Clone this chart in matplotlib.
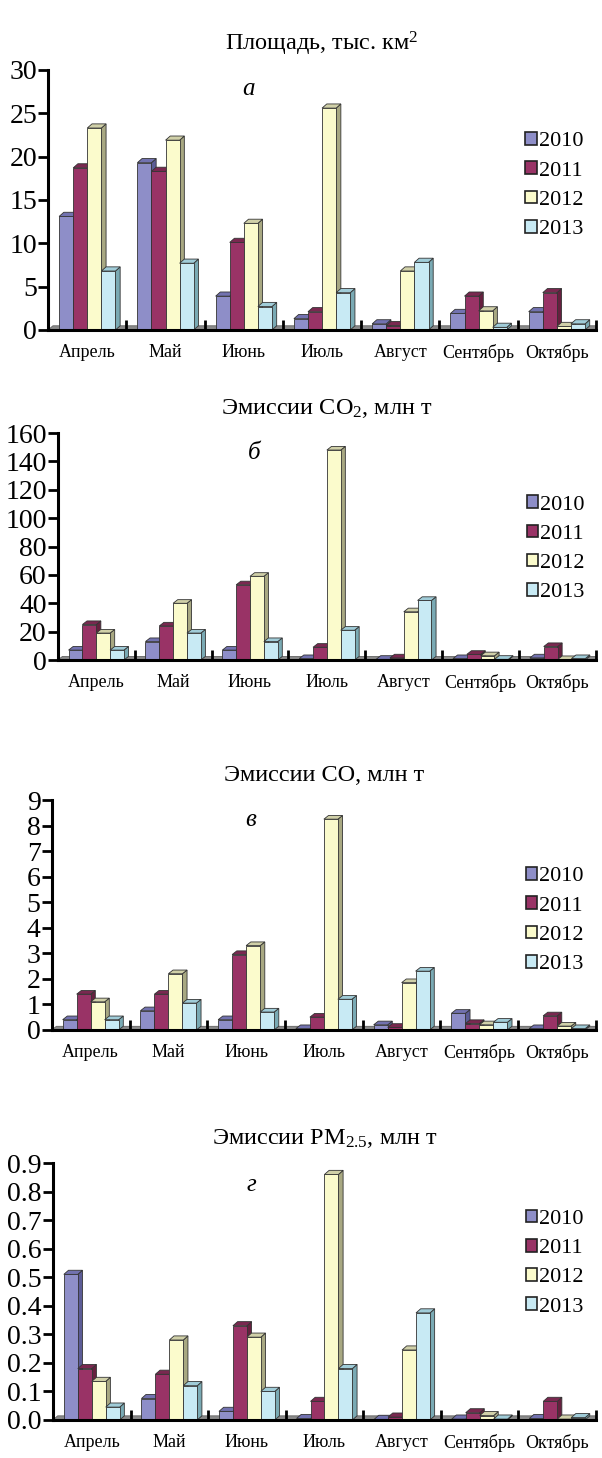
import matplotlib
matplotlib.use('Agg')
import matplotlib.pyplot as plt
from matplotlib.patches import Polygon, Rectangle, Patch
import numpy as np

plt.rcParams['font.family'] = ['Liberation Serif', 'DejaVu Serif']
plt.rcParams['mathtext.fontset'] = 'custom'
plt.rcParams['mathtext.rm'] = 'Liberation Serif'
plt.rcParams['mathtext.it'] = 'Liberation Serif:italic'

months = ['Апрель', 'Май', 'Июнь', 'Июль', 'Август', 'Сентябрь', 'Октябрь']
years = ['2010', '2011', '2012', '2013']

# площадь, тыс. км2
area_2010 = [13.1, 19.3, 3.9, 1.3, 0.7, 1.9, 2.1]
area_2011 = [18.7, 18.3, 10.1, 2.1, 0.5, 3.9, 4.3]
area_2012 = [23.3, 21.9, 12.3, 25.6, 6.8, 2.2, 0.4]
area_2013 = [6.8, 7.7, 2.7, 4.3, 7.8, 0.3, 0.7]

# CO2, млн т
co2_2010 = [7, 13, 7, 1, 0.5, 1, 1.5]
co2_2011 = [25, 24, 53, 9, 1.5, 4, 9.5]
co2_2012 = [19, 40, 59, 148, 34, 3, 0.3]
co2_2013 = [7, 19, 13, 21, 42, 0.5, 1]

# CO, млн т
co_2010 = [0.4, 0.75, 0.4, 0.05, 0.2, 0.65, 0.05]
co_2011 = [1.4, 1.4, 2.95, 0.5, 0.1, 0.25, 0.55]
co_2012 = [1.1, 2.2, 3.3, 8.25, 1.85, 0.2, 0.15]
co_2013 = [0.4, 1.05, 0.7, 1.2, 2.3, 0.3, 0.05]

# PM2.5, млн т
pm_2010 = [0.51, 0.075, 0.03, 0.005, 0.002, 0.003, 0.005]
pm_2011 = [0.18, 0.16, 0.33, 0.065, 0.01, 0.025, 0.065]
pm_2012 = [0.135, 0.28, 0.29, 0.86, 0.245, 0.015, 0.003]
pm_2013 = [0.045, 0.12, 0.10, 0.18, 0.375, 0.003, 0.008]

front = ['#8e8ec8', '#993366', '#fbfbcc', '#c8eaf4']
side = ['#5c5c96', '#66203f', '#a8a882', '#7aaab4']
top = ['#7272b0', '#7a2850', '#d0d0a8', '#a0ccd8']

panels = [
    dict(data=[area_2010, area_2011, area_2012, area_2013], ymax=30, step=5,
         fmt='{:.0f}', title='Площадь, тыс. км$^2$', letter='а',
         rect=[0.080, 0.7737, 0.910, 0.1783], leg_y=0.555, let_y=0.925),
    dict(data=[co2_2010, co2_2011, co2_2012, co2_2013], ymax=160, step=20,
         fmt='{:.0f}', title='Эмиссии CO$_2$, млн т', letter='б',
         rect=[0.096, 0.5473, 0.894, 0.1557], leg_y=0.49, let_y=0.91),
    dict(data=[co_2010, co_2011, co_2012, co_2013], ymax=9, step=1,
         fmt='{:.0f}', title='Эмиссии CO, млн т', letter='в',
         rect=[0.086, 0.2936, 0.904, 0.1577], leg_y=0.475, let_y=0.915),
    dict(data=[pm_2010, pm_2011, pm_2012, pm_2013], ymax=0.9, step=0.1,
         fmt='{:.1f}', title='Эмиссии PM$_{2.5}$, млн т', letter='г',
         rect=[0.088, 0.0261, 0.902, 0.1762], leg_y=0.61, let_y=0.915),
]

fig = plt.figure(figsize=(6.02, 14.58), dpi=100)

bw = 0.18
off = 0.14
dx = 0.06

for p in panels:
    ax = fig.add_axes(p['rect'])
    ymax = p['ymax']
    dy = ymax * 0.016
    n = len(months)
    ax.set_xlim(0, n)
    ax.set_ylim(0, ymax)

    # floor
    ax.add_patch(Polygon([(0, 0), (dx, dy), (n, dy), (n, 0)], closed=True,
                         facecolor='#8a8a8a', edgecolor='#555555', lw=0.5, zorder=1))

    for i in range(n):
        for j, series in enumerate(p['data']):
            h = series[i]
            x0 = i + off + j * bw
            z = 2 + j
            ax.add_patch(Polygon([(x0 + bw, 0), (x0 + bw + dx, dy), (x0 + bw + dx, h + dy), (x0 + bw, h)],
                                 closed=True, facecolor=side[j], edgecolor='#333333', lw=0.6, zorder=z))
            ax.add_patch(Polygon([(x0, h), (x0 + dx, h + dy), (x0 + bw + dx, h + dy), (x0 + bw, h)],
                                 closed=True, facecolor=top[j], edgecolor='#333333', lw=0.6, zorder=z))
            ax.add_patch(Rectangle((x0, 0), bw, h, facecolor=front[j],
                                   edgecolor='#333333', lw=0.6, zorder=z))

    for s in ['top', 'right']:
        ax.spines[s].set_visible(False)
    ax.spines['left'].set_linewidth(2.2)
    ax.spines['bottom'].set_linewidth(2.2)
    ax.spines['left'].set_zorder(10)
    ax.spines['bottom'].set_zorder(10)

    yt = np.arange(0, ymax + p['step'] / 2, p['step'])
    ax.set_yticks(yt)
    ax.set_yticklabels([p['fmt'].format(v) for v in yt])
    ax.tick_params(axis='y', direction='out', length=7, width=2, labelsize=20, pad=1)

    ax.set_xticks(np.arange(1, n + 1))
    ax.set_xticklabels([])
    ax.tick_params(axis='x', which='major', direction='in', length=7, width=2)
    ax.set_xticks(np.arange(n) + 0.5, minor=True)
    ax.set_xticklabels(months, minor=True)
    ax.tick_params(axis='x', which='minor', length=0, labelsize=13, pad=10)

    ax.set_title(p['title'], fontsize=17.5, pad=14)
    ax.text(0.365, p['let_y'], p['letter'], transform=ax.transAxes, fontsize=18,
            style='italic', ha='center', va='center')

    handles = [Patch(facecolor=front[j], edgecolor='#222222', lw=1.2) for j in range(4)]
    ax.legend(handles, years, loc='center left', bbox_to_anchor=(0.855, p['leg_y']),
              frameon=False, fontsize=16, handlelength=0.5, handleheight=0.5,
              handletextpad=0.1, labelspacing=0.45, borderaxespad=0)

fig.savefig('out.png', dpi=100)
